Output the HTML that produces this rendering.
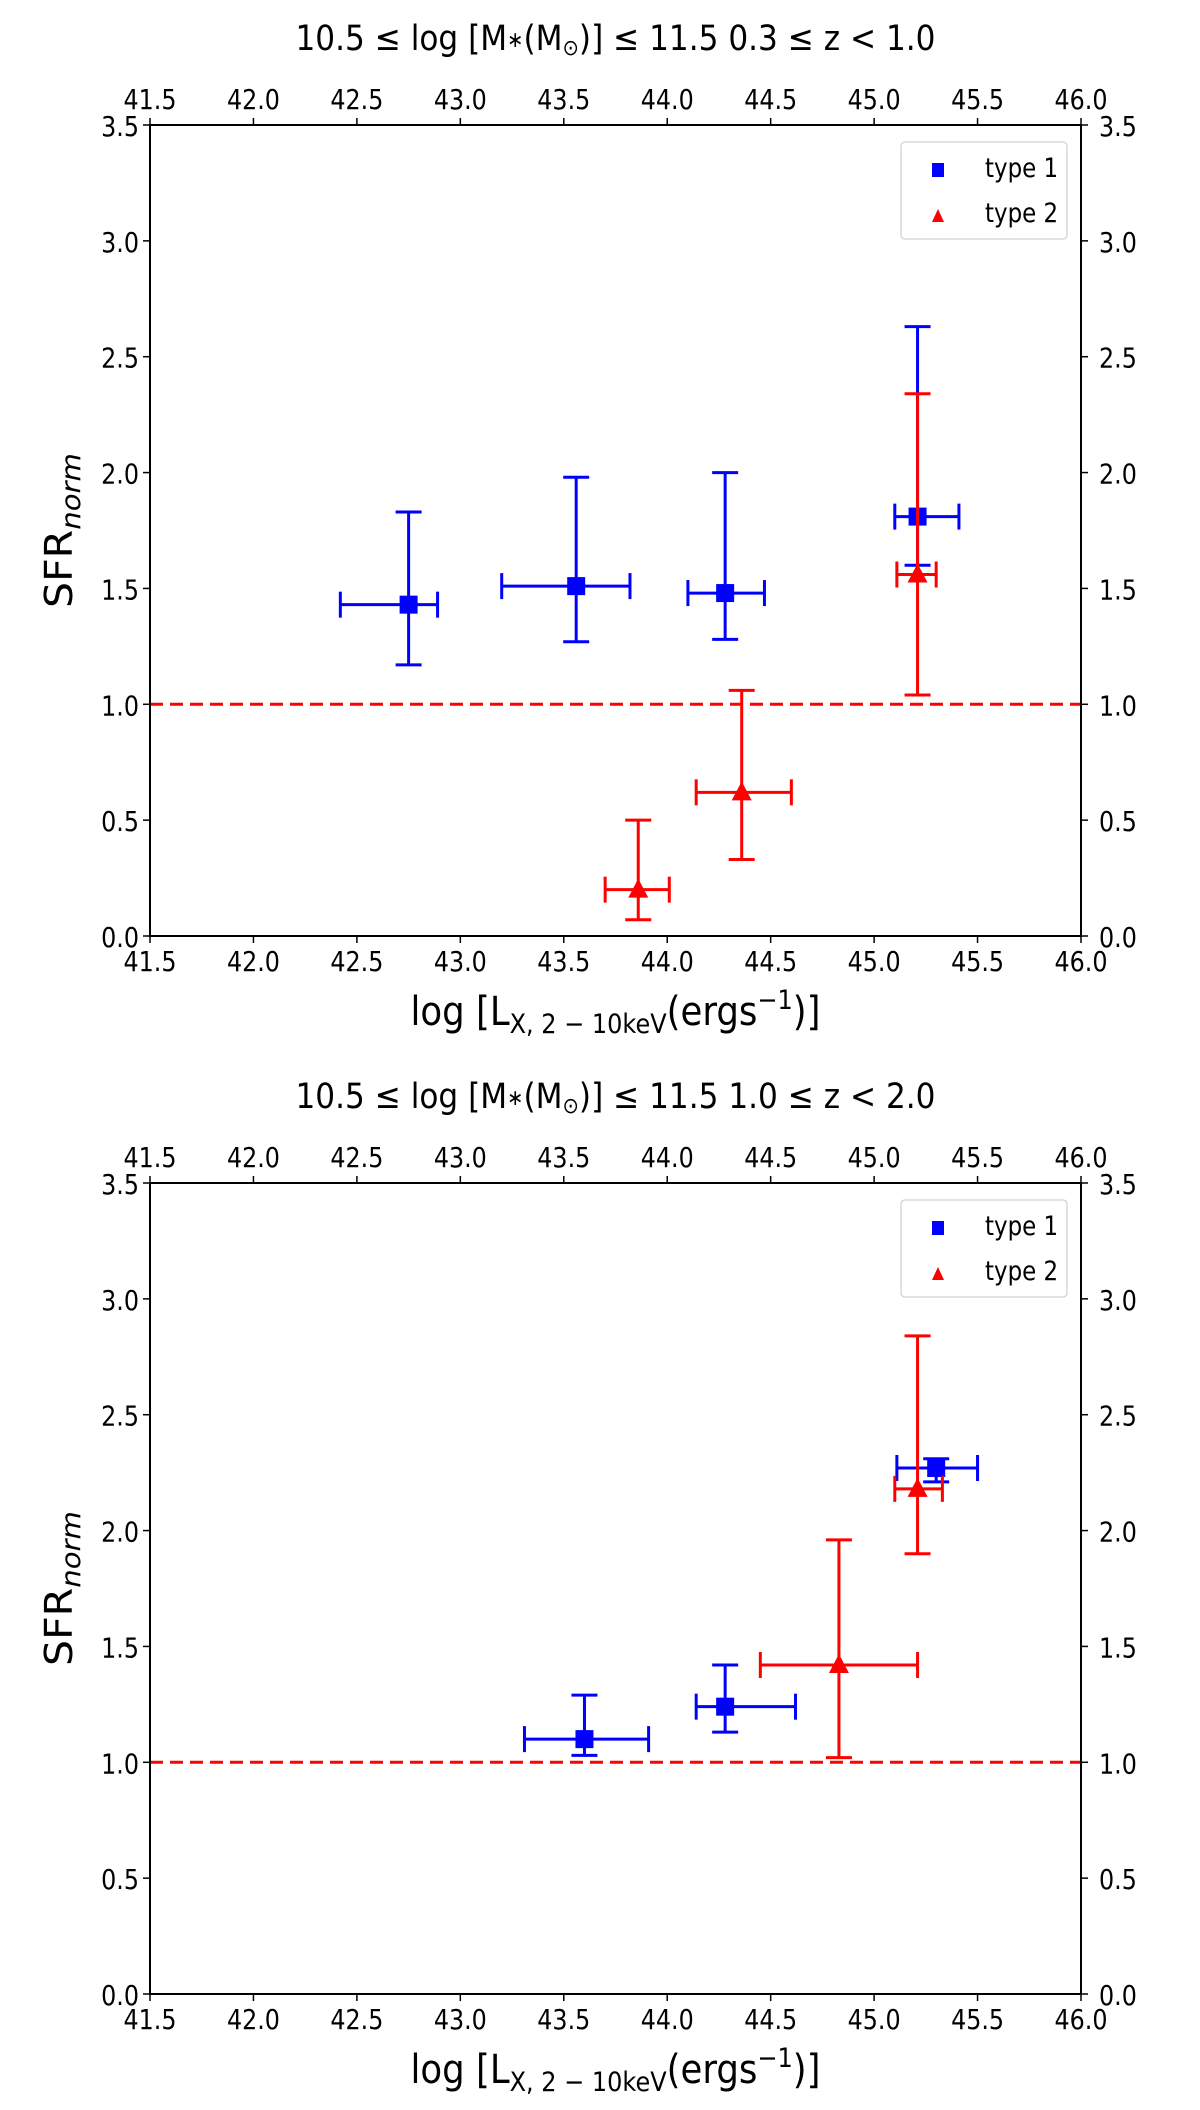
<!DOCTYPE html>
<html><head><meta charset="utf-8">
<style>
html,body{margin:0;padding:0;background:#fff;}
svg{display:block;}
text{font-family:"DejaVu Sans","Liberation Sans",sans-serif;fill:#000;}
</style></head>
<body>
<svg id="fig" width="1200" height="2110" viewBox="0 0 1200 2110" xmlns="http://www.w3.org/2000/svg"></svg>
<script>
// ---- data ----
const xTicks = [41.5,42.0,42.5,43.0,43.5,44.0,44.5,45.0,45.5,46.0];
const yTicks = [0.0,0.5,1.0,1.5,2.0,2.5,3.0,3.5];
const titles = ["0.3 \u2264 z < 1.0", "1.0 \u2264 z < 2.0"];
// panel 1 type 1
const p1t1X = [42.75, 43.56, 44.28, 45.21];
const p1t1Y = [1.43, 1.51, 1.48, 1.81];
const p1t1XLo = [42.42, 43.20, 44.10, 45.10];
const p1t1XHi = [42.89, 43.82, 44.47, 45.41];
const p1t1YLo = [1.17, 1.27, 1.28, 1.60];
const p1t1YHi = [1.83, 1.98, 2.00, 2.63];
// panel 1 type 2
const p1t2X = [43.86, 44.36, 45.21];
const p1t2Y = [0.20, 0.62, 1.56];
const p1t2XLo = [43.70, 44.14, 45.11];
const p1t2XHi = [44.01, 44.60, 45.30];
const p1t2YLo = [0.07, 0.33, 1.04];
const p1t2YHi = [0.50, 1.06, 2.34];
// panel 2 type 1
const p2t1X = [43.60, 44.28, 45.30];
const p2t1Y = [1.10, 1.24, 2.27];
const p2t1XLo = [43.31, 44.14, 45.11];
const p2t1XHi = [43.91, 44.62, 45.50];
const p2t1YLo = [1.03, 1.13, 2.21];
const p2t1YHi = [1.29, 1.42, 2.31];
// panel 2 type 2
const p2t2X = [44.83, 45.21];
const p2t2Y = [1.42, 2.18];
const p2t2XLo = [44.45, 45.10];
const p2t2XHi = [45.21, 45.33];
const p2t2YLo = [1.02, 1.90];
const p2t2YHi = [1.96, 2.84];
const refLine = 1.0;

const NS = "http://www.w3.org/2000/svg";
const svg = document.getElementById("fig");
function mk(tag, attrs, parent){
  const e = document.createElementNS(NS, tag);
  for (const k in attrs) e.setAttribute(k, attrs[k]);
  (parent||svg).appendChild(e);
  return e;
}
const SX = 0.85;
function ctext(parent, x, y, size, anchor){
  return mk("text", {x:0, y:0, "font-size":size, "text-anchor":anchor, transform:`translate(${x},${y}) scale(${SX},1)`}, parent);
}
const L = 150, R = 1081, H = 811;
const panels = [
  {top:125, t1:[p1t1X,p1t1Y,p1t1XLo,p1t1XHi,p1t1YLo,p1t1YHi], t2:[p1t2X,p1t2Y,p1t2XLo,p1t2XHi,p1t2YLo,p1t2YHi]},
  {top:1183, t1:[p2t1X,p2t1Y,p2t1XLo,p2t1XHi,p2t1YLo,p2t1YHi], t2:[p2t2X,p2t2Y,p2t2XLo,p2t2XHi,p2t2YLo,p2t2YHi]}
];

panels.forEach((p, pi) => {
  const T = p.top, B = T + H;
  const sx = v => L + (v - 41.5) / 4.5 * (R - L);
  const sy = v => B - v / 3.5 * H;
  const g = mk("g", {});
  
  

  // title
  const tt = mk("text", {x:(L+R)/2, y:T-75, "font-size":35, "text-anchor":"middle", textLength:640, lengthAdjust:"spacingAndGlyphs"}, g);
  
  
  tt.innerHTML = '10.5 \u2264 log [M<tspan font-size="22" dy="-3">\u2217</tspan><tspan dy="3">(M</tspan><tspan font-size="22" dy="5">\u2299</tspan><tspan dy="-5">)] \u2264 11.5   ' + titles[pi] + '</tspan>';

  // ticks
  xTicks.forEach(v => {
    const x = sx(v);
    mk("line", {x1:x, x2:x, y1:B, y2:B+7, stroke:"#000", "stroke-width":1.5}, g);
    mk("line", {x1:x, x2:x, y1:T, y2:T-7, stroke:"#000", "stroke-width":1.5}, g);
    const lb = ctext(g, x, B+35, 28, "middle");
    
    
    lb.textContent = v.toFixed(1);
    const lt = ctext(g, x, T-16, 28, "middle");
    
    
    lt.textContent = v.toFixed(1);
  });
  yTicks.forEach(v => {
    const y = sy(v);
    mk("line", {x1:L, x2:L-7, y1:y, y2:y, stroke:"#000", "stroke-width":1.5}, g);
    mk("line", {x1:R, x2:R+7, y1:y, y2:y, stroke:"#000", "stroke-width":1.5}, g);
    const ll = ctext(g, L-11, y+11, 28, "end");
    
    
    ll.textContent = v.toFixed(1);
    const lr = ctext(g, R+18, y+11, 28, "start");
    
    
    lr.textContent = v.toFixed(1);
  });

  // reference line
  const rl = mk("line", {x1:L, x2:R, y1:sy(refLine), y2:sy(refLine), stroke:"#ff0000", "stroke-width":3, "stroke-dasharray":"13,7"}, g);
  
  

  // series
  function drawSeries(arr, color, shape, name){
    const [X,Y,XL,XH,YL,YH] = arr;
    X.forEach((xv, i) => {
      const gg = mk("g", {stroke:color, "stroke-width":3, fill:color}, g);
      
      
      const cx = sx(xv), cy = sy(Y[i]);
      mk("line", {x1:sx(XL[i]), x2:sx(XH[i]), y1:cy, y2:cy}, gg);
      mk("line", {x1:cx, x2:cx, y1:sy(YL[i]), y2:sy(YH[i])}, gg);
      mk("line", {x1:sx(XL[i]), x2:sx(XL[i]), y1:cy-13, y2:cy+13}, gg);
      mk("line", {x1:sx(XH[i]), x2:sx(XH[i]), y1:cy-13, y2:cy+13}, gg);
      mk("line", {x1:cx-13, x2:cx+13, y1:sy(YL[i]), y2:sy(YL[i])}, gg);
      mk("line", {x1:cx-13, x2:cx+13, y1:sy(YH[i]), y2:sy(YH[i])}, gg);
      if (shape === "sq") mk("rect", {x:cx-9, y:cy-9, width:18, height:18, stroke:"none"}, gg);
      else mk("polygon", {points:`${cx},${cy-11} ${cx+10},${cy+8} ${cx-10},${cy+8}`, stroke:"none"}, gg);
    });
  }
  drawSeries(p.t1, "#0000ff", "sq", "type1");
  drawSeries(p.t2, "#ff0000", "tri", "type2");

  // axes frame
  const fr = mk("rect", {x:L, y:T, width:R-L, height:H, fill:"none", stroke:"#000", "stroke-width":2}, g);
  
  

  // legend
  const lg = mk("g", {}, g);
  
  
  mk("rect", {x:901, y:T+17, width:166, height:97, rx:4, fill:"#fff", stroke:"#d8d8d8", "stroke-width":1.5}, lg);
  mk("rect", {x:932, y:T+38, width:12, height:14, fill:"#0000ff"}, lg);
  mk("polygon", {points:`938,${T+84} 944,${T+97} 932,${T+97}`, fill:"#ff0000"}, lg);
  const e1 = ctext(lg, 985, T+52, 27, "start");
  
  
  e1.textContent = "type 1";
  const e2 = ctext(lg, 985, T+97, 27, "start");
  
  
  e2.textContent = "type 2";

  // x label
  const xl = mk("text", {x:(L+R)/2, y:B+89, "font-size":40, "text-anchor":"middle", textLength:410, lengthAdjust:"spacingAndGlyphs"}, g);
  
  
  xl.innerHTML = 'log [L<tspan font-size="27" dy="8">X, 2 \u2212 10keV</tspan><tspan dy="-8">(ergs</tspan><tspan font-size="27" dy="-16">\u22121</tspan><tspan dy="16">)]</tspan>';

  // y label
  const yl = mk("text", {x:0, y:0, "font-size":38, "text-anchor":"middle", textLength:155, lengthAdjust:"spacingAndGlyphs", transform:`translate(72,${(T+B)/2}) rotate(-90)`}, g);
  
  
  yl.innerHTML = 'SFR<tspan font-size="27" font-style="italic" dy="8">norm</tspan>';
});
</script>
</body></html>
